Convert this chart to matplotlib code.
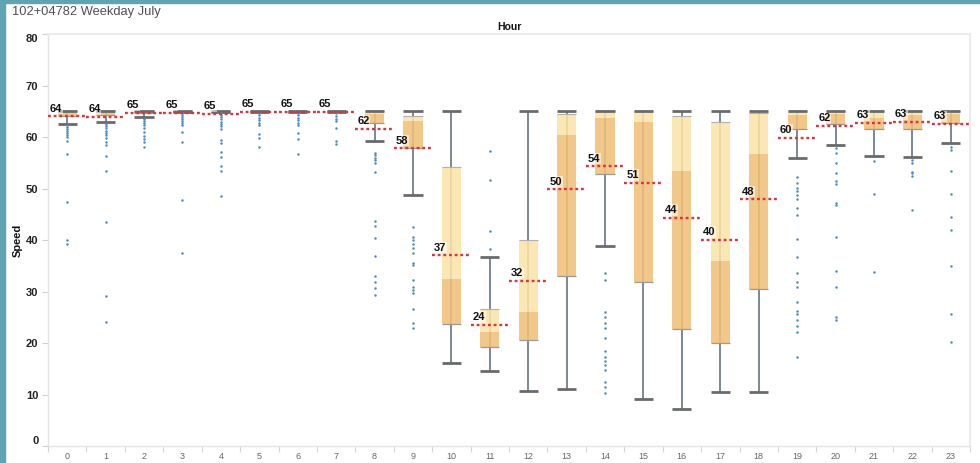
#!/usr/bin/env python
##############################################################################
#
#   Boxplots of hourly speeds for one detector, weekdays in July,
#   with the hourly average drawn as a dotted reference line.
#
##############################################################################

# imports
import matplotlib

matplotlib.use("Agg")
from matplotlib import pyplot as plt  # noqa: E402
from matplotlib.patches import Rectangle  # noqa: E402

##############################################################################

TITLE = "102+04782 Weekday July"

hours = list(range(24))
hour_labels = [str(h) for h in hours]

# box plot statistics per hour (speed)
whisker_low = [62.6, 63.0, 64.0, 65.0, 65.0, 65.0, 65.0, 65.0, 59.3, 48.8,
               16.2, 14.7, 10.8, 11.1, 38.9, 9.1, 7.2, 10.5, 10.6, 56.0,
               58.6, 56.4, 56.1, 58.8]
quartile_1 = [64.1, 64.3, 64.7, 65.0, 65.0, 65.0, 65.0, 65.0, 62.7, 57.9,
              23.7, 19.2, 20.6, 33.1, 52.8, 32.0, 22.7, 20.1, 30.6, 61.6,
              62.6, 61.7, 61.6, 62.7]
medians = [64.9, 64.9, 65.0, 65.1, 65.1, 65.1, 65.1, 65.1, 64.6, 63.2,
           32.4, 22.1, 26.1, 60.4, 63.7, 63.0, 53.5, 36.0, 56.8, 64.3,
           64.5, 63.7, 64.3, 64.5]
quartile_3 = [65.2, 65.2, 65.2, 65.2, 65.2, 65.2, 65.2, 65.2, 65.2, 64.1,
              54.3, 26.6, 40.0, 64.5, 65.2, 65.2, 64.1, 63.0, 64.8, 65.2,
              65.2, 65.2, 65.2, 65.2]
whisker_high = [65.2, 65.2, 65.2, 65.2, 65.2, 65.2, 65.2, 65.2, 65.2, 65.2,
                65.2, 36.8, 65.2, 65.2, 65.2, 65.2, 65.2, 65.2, 65.2, 65.2,
                65.2, 65.2, 65.2, 65.2]

# hourly average speed
averages = [64.1, 64.0, 64.8, 64.8, 64.6, 65.0, 64.9, 65.0, 61.7, 57.9,
            37.1, 23.6, 32.1, 49.9, 54.4, 51.2, 44.4, 40.1, 48.0, 59.9,
            62.2, 62.8, 63.0, 62.6]

# single observations outside the whiskers
outliers = [
    [62.3, 62.0, 61.6, 61.2, 60.8, 60.4, 60.0, 59.2, 56.7, 47.5, 40.1, 39.3],
    [62.6, 62.2, 61.8, 61.3, 60.9, 60.4, 59.8, 59.0, 58.5, 56.4, 53.5, 43.6,
     29.2, 24.2],
    [63.6, 63.2, 62.8, 62.3, 61.8, 61.1, 60.3, 59.6, 59.0, 58.2],
    [64.7, 64.3, 63.9, 63.5, 63.1, 62.7, 62.4, 61.1, 59.0, 47.8, 37.5],
    [64.7, 64.3, 63.9, 63.5, 63.0, 62.6, 62.1, 61.6, 59.5, 58.9, 57.1, 56.1,
     54.4, 53.5, 48.6],
    [64.7, 64.3, 63.8, 63.3, 62.8, 62.3, 60.6, 59.8, 58.2],
    [64.7, 64.3, 63.8, 63.3, 62.8, 62.3, 60.8, 59.6, 56.8],
    [64.7, 64.2, 63.6, 63.1, 61.9, 59.3, 58.7],
    [57.0, 56.5, 56.0, 55.5, 55.0, 53.3, 43.8, 42.8, 40.4, 37.0, 33.1, 32.0,
     30.7, 29.4],
    [42.5, 40.7, 40.0, 39.3, 38.6, 37.5, 35.6, 35.2, 32.3, 31.0, 30.4, 29.8,
     26.6, 24.0, 22.9],
    [],
    [57.3, 51.7, 41.9, 38.4],
    [],
    [],
    [33.6, 32.3, 26.0, 25.2, 24.0, 22.9, 21.0, 18.6, 17.4, 16.6, 15.8, 14.8,
     12.5, 11.6, 10.4],
    [],
    [],
    [],
    [],
    [52.2, 51.2, 50.2, 49.6, 48.8, 48.0, 46.3, 44.9, 40.2, 36.8, 33.7, 32.0,
     30.9, 28.0, 26.3, 25.7, 24.5, 23.4, 22.1, 17.4],
    [57.9, 56.9, 55.1, 53.0, 51.5, 51.0, 47.2, 46.8, 40.7, 34.0, 31.0, 25.2,
     24.5],
    [55.4, 48.9, 33.8],
    [55.6, 55.0, 53.3, 53.0, 52.5, 45.9],
    [58.2, 57.5, 53.5, 49.0, 44.5, 42.0, 35.0, 25.7, 20.3],
]

y_ticks = [0, 10, 20, 30, 40, 50, 60, 70, 80]

LOWER_BOX = "#F1C07A"
UPPER_BOX = "#FBE4AA"
WHISKER = "#55677a"
CAP = "#6a6a6a"
DOTS = "#4a8cc6"
AVERAGE = "#d8363f"
FRAME = "#e4e4e4"
TEAL = "#5FA4B3"

##############################################################################


def main():
    """Main body of the script."""

    plt.rcParams["font.family"] = ["Liberation Sans", "DejaVu Sans"]

    fig = plt.figure(figsize=(9.8, 4.63), dpi=100)
    W, H = 980.0, 463.0
    ax = fig.add_axes([48 / W, (H - 446.3) / H, 922 / W, 412 / H])

    box_w = 0.5

    # whiskers run through the boxes, boxes sit on top
    ax.vlines(hours, whisker_low, whisker_high, colors=WHISKER, lw=1.1,
              zorder=1)
    lower_h = [m - q for m, q in zip(medians, quartile_1)]
    upper_h = [q - m for q, m in zip(quartile_3, medians)]
    ax.bar(hours, lower_h, bottom=quartile_1, width=box_w, color=LOWER_BOX,
           alpha=0.88, zorder=2)
    ax.bar(hours, upper_h, bottom=medians, width=box_w, color=UPPER_BOX,
           alpha=0.88, zorder=2)
    xl = [h - box_w / 2 for h in hours]
    xr = [h + box_w / 2 for h in hours]
    ax.hlines(quartile_1, xl, xr, colors="#9a9a9a", lw=0.9, zorder=3)
    ax.hlines(quartile_3, xl, xr, colors="#b0b0b0", lw=0.8, zorder=3)

    # caps
    ax.hlines(whisker_low, xl, xr, colors=CAP, lw=2.0, zorder=4)
    ax.hlines(whisker_high, xl, xr, colors=CAP, lw=2.0, zorder=4)

    # single points
    for h, pts in zip(hours, outliers):
        if pts:
            ax.plot([h] * len(pts), pts, "o", ms=1.8, mew=0, color=DOTS,
                    zorder=5)

    # average reference lines with value labels
    ax.hlines(averages, [h - 0.5 for h in hours], [h + 0.5 for h in hours],
              colors=AVERAGE, lw=1.7, linestyles=(0, (1.2, 1.2)), zorder=6)
    for h, m in zip(hours, averages):
        ax.text(h - 0.45, m + 0.5, f"{m:.0f}", ha="left", va="bottom",
                fontsize=8, fontweight="bold", color="#111111", zorder=7,
                bbox=dict(facecolor="white", alpha=0.55, edgecolor="none",
                          pad=0.6))

    # axes
    ax.set_xlim(-0.5, 23.5)
    ax.set_ylim(0, 80)
    ax.set_xticks(hours)
    ax.set_xticklabels(hour_labels, fontsize=6.5, color="#666666")
    ax.set_xticks([h - 0.5 for h in hours] + [23.5], minor=True)
    ax.tick_params(axis="x", which="major", length=0, pad=4)
    ax.tick_params(axis="x", which="minor", length=4, color="#d6d6d6",
                   width=0.8)
    ax.set_yticks(y_ticks)
    ax.set_yticklabels([str(v) for v in y_ticks], fontsize=8,
                       fontweight="bold", color="#222222")
    ax.tick_params(axis="y", length=4, color="#d0d0d0", width=0.8, pad=3)
    ylabels = ax.get_yticklabels()
    ylabels[0].set_va("bottom")
    ylabels[-1].set_va("top")
    for side in ("left", "bottom"):
        ax.spines[side].set_color(FRAME)
        ax.spines[side].set_linewidth(1.0)
    for side in ("top", "right"):
        ax.spines[side].set_color("#ebebeb")
        ax.spines[side].set_linewidth(1.5)

    # headers
    fig.text(12 / W, 1 - 12 / H, TITLE, ha="left", va="center",
             fontsize=9.3, color="#505050")
    fig.text((48 + 922 / 2) / W, 1 - 27 / H, "Hour", ha="center",
             va="center", fontsize=7.5, fontweight="bold", color="#111111")
    fig.text(18 / W, 1 - 240 / H, "Speed", ha="center", va="center",
             rotation=90, fontsize=8, fontweight="bold", color="#111111")

    # dashboard frame
    fig.patches.append(Rectangle((0, 0), 4.5 / W, 1, transform=fig.transFigure,
                                 color=TEAL, zorder=10))
    fig.patches.append(Rectangle((0, 1 - 3 / H), 1, 3 / H,
                                 transform=fig.transFigure, color=TEAL,
                                 zorder=10))

    plt.savefig("out.png", format="png", dpi=100)


##############################################################################


if __name__ == "__main__":
    main()
